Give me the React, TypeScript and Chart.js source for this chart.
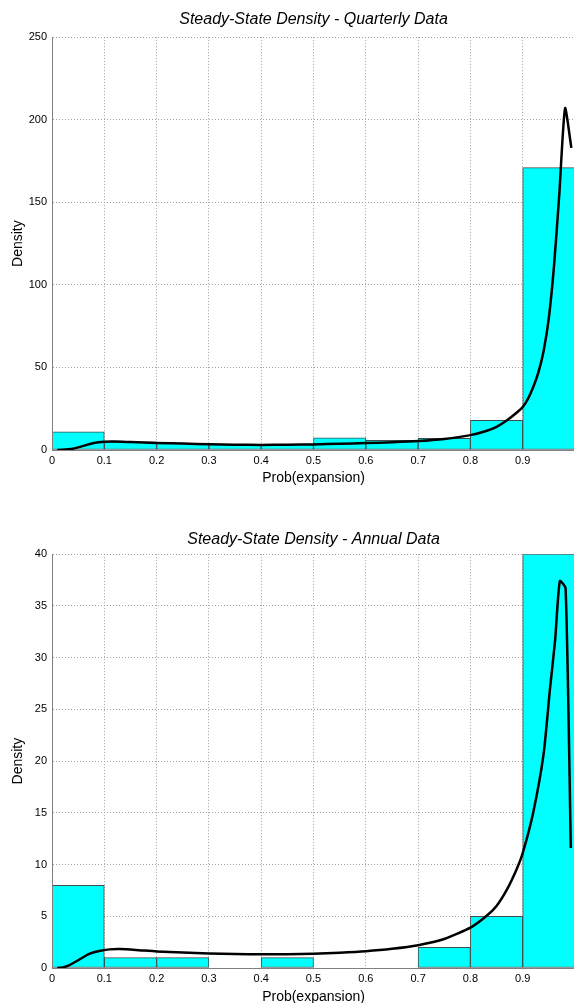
import React, { useEffect, useRef } from "react";
import { Chart, registerables } from "chart.js";

Chart.register(...registerables);

// Histogram bin centres (bin width 0.1)
const binCenters = [0.05, 0.15, 0.25, 0.35, 0.45, 0.55, 0.65, 0.75, 0.85, 0.95];
const quarterlyHist = [11, 5, 4, 3.4, 3.4, 7.3, 5.9, 7, 18, 171];
const annualHist = [8, 1, 1, 0, 1, 0, 0, 2, 5, 40];

// Kernel density curves
const quarterlyX = [0.01, 0.02, 0.04, 0.06, 0.08, 0.1, 0.12, 0.15, 0.2, 0.25, 0.3, 0.35, 0.4, 0.45, 0.5, 0.55, 0.6, 0.65, 0.7, 0.75, 0.8, 0.83, 0.85, 0.87, 0.89, 0.9, 0.91, 0.92, 0.93, 0.94, 0.95, 0.96, 0.97, 0.981, 0.993];
const quarterlyY = [0, 0.1, 0.8, 2.5, 4.2, 5.0, 5.1, 4.8, 4.3, 3.9, 3.5, 3.2, 3.1, 3.2, 3.4, 3.8, 4.2, 4.7, 5.4, 6.7, 9, 11.5, 14, 18, 23, 26, 31, 38, 47, 60, 80, 112, 155, 207, 183];

const annualX = [0.01, 0.02, 0.03, 0.05, 0.07, 0.09, 0.11, 0.13, 0.16, 0.2, 0.25, 0.3, 0.35, 0.4, 0.45, 0.5, 0.55, 0.6, 0.65, 0.7, 0.75, 0.8, 0.83, 0.85, 0.87, 0.888, 0.9, 0.92, 0.94, 0.952, 0.962, 0.971, 0.982, 0.992];
const annualY = [0, 0.05, 0.2, 0.75, 1.35, 1.65, 1.8, 1.83, 1.75, 1.6, 1.5, 1.4, 1.35, 1.32, 1.33, 1.38, 1.48, 1.62, 1.85, 2.2, 2.8, 3.9, 5.0, 6.0, 7.6, 9.5, 11.1, 15, 20.7, 26.9, 31.7, 37.4, 36.7, 11.6];

const FONT = "'Liberation Sans', Arial, Helvetica, sans-serif";

function makeConfig(
  title: string,
  hist: number[],
  cx: number[],
  cy: number[],
  yMax: number,
  yStep: number,
  xAxisHeight: number,
  xTitlePadBottom: number,
  titlePad: { top: number; bottom: number }
): any {
  return {
    type: "bar",
    data: {
      datasets: [
        {
          type: "line",
          data: cx.map((x, i) => ({ x, y: cy[i] })),
          borderColor: "#000000",
          borderWidth: 2.5,
          pointRadius: 0,
          tension: 0.2,
          fill: false,
          order: 0,
        },
        {
          type: "bar",
          data: binCenters.map((x, i) => ({ x, y: hist[i] })),
          backgroundColor: "#00FFFF",
          borderColor: "#3f4f4f",
          borderWidth: 1,
          borderSkipped: false,
          barPercentage: 1,
          categoryPercentage: 1,
          order: 1,
        },
      ],
    },
    options: {
      animation: false,
      responsive: false,
      maintainAspectRatio: false,
      events: [],
      layout: { padding: 0 },
      plugins: {
        legend: { display: false },
        tooltip: { enabled: false },
        title: {
          display: true,
          text: title,
          fullSize: false,
          color: "#000",
          font: { family: FONT, size: 16, style: "italic", weight: "normal" },
          padding: titlePad,
        },
      },
      scales: {
        x: {
          type: "linear",
          min: 0,
          max: 1,
          offset: false,
          afterFit: (s: any) => {
            s.height = xAxisHeight;
            s.paddingLeft = 0;
            s.paddingRight = 0;
          },
          ticks: {
            stepSize: 0.1,
            padding: 4,
            maxRotation: 0,
            autoSkip: false,
            color: "#000",
            font: { family: FONT, size: 11 },
            callback: (v: number) => (v >= 0.999 ? "" : String(Math.round(v * 10) / 10)),
          },
          grid: {
            color: "#a0a0a0",
            drawTicks: false,
            offset: false,
          },
          border: { display: true, color: "#808080", width: 1, dash: [1, 2] },
          title: {
            display: true,
            text: "Prob(expansion)",
            color: "#000",
            font: { family: FONT, size: 14 },
            padding: { top: 0, bottom: xTitlePadBottom },
          },
        },
        y: {
          min: 0,
          max: yMax,
          afterFit: (s: any) => {
            s.width = 52;
          },
          ticks: {
            stepSize: yStep,
            padding: 5,
            color: "#000",
            font: { family: FONT, size: 11 },
          },
          grid: {
            color: "#a0a0a0",
            drawTicks: false,
          },
          border: { display: true, color: "#808080", width: 1, dash: [1, 2] },
          title: {
            display: true,
            text: "Density",
            color: "#000",
            font: { family: FONT, size: 14 },
            padding: { top: 10, bottom: 0 },
          },
        },
      },
    },
    plugins: [
      {
        id: "solidAxes",
        afterDatasetsDraw(chart: any) {
          const { ctx, chartArea } = chart;
          ctx.save();
          ctx.strokeStyle = "#808080";
          ctx.lineWidth = 1;
          ctx.setLineDash([]);
          ctx.beginPath();
          ctx.moveTo(chartArea.left + 0.5, chartArea.top);
          ctx.lineTo(chartArea.left + 0.5, chartArea.bottom + 0.5);
          ctx.lineTo(chartArea.right, chartArea.bottom + 0.5);
          ctx.stroke();
          ctx.restore();
        },
      },
    ],
  };
}

function ChartCanvas(props: { config: any; width: number; height: number; top: number }) {
  const ref = useRef<HTMLCanvasElement | null>(null);
  useEffect(() => {
    if (!ref.current) return;
    const chart = new Chart(ref.current, props.config);
    return () => chart.destroy();
  }, []);
  return (
    <canvas
      ref={ref}
      width={props.width}
      height={props.height}
      style={{ position: "absolute", left: 0, top: props.top, width: props.width, height: props.height }}
    />
  );
}

export default function App() {
  const topCfg = makeConfig("Steady-State Density - Quarterly Data", quarterlyHist, quarterlyX, quarterlyY, 250, 50, 40, 3, { top: 10, bottom: 8 });
  const botCfg = makeConfig("Steady-State Density - Annual Data", annualHist, annualX, annualY, 40, 5, 38, 0, { top: 13, bottom: 5 });
  return (
    <div
      style={{
        position: "absolute",
        left: 0,
        top: 0,
        width: 574,
        height: 1003,
        overflow: "hidden",
        background: "#fff",
      }}
    >
      <ChartCanvas config={topCfg} width={575} height={490} top={0} />
      <ChartCanvas config={botCfg} width={575} height={489} top={517} />
    </div>
  );
}
